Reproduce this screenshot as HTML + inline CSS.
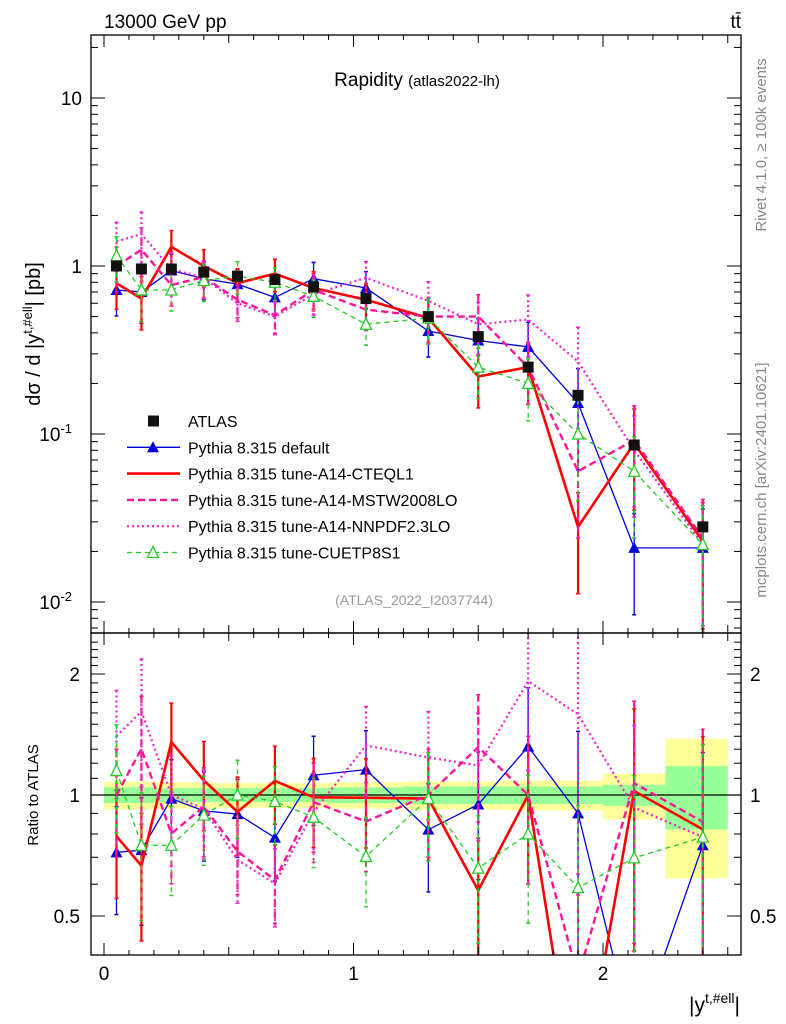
<!DOCTYPE html>
<html><head><meta charset="utf-8"><style>
html,body{margin:0;padding:0;background:#fff;width:786px;height:1024px;overflow:hidden;}
svg{display:block;position:absolute;left:0;top:0;font-family:"Liberation Sans",sans-serif;}
</style></head><body>
<svg id="c" width="786" height="1024" viewBox="0 0 786 1024"></svg>
<script>
const xCenters=[0.05,0.15,0.27,0.4,0.535,0.685,0.84,1.05,1.3,1.5,1.7,1.9,2.125,2.4];
const binEdges=[0,0.1,0.2,0.35,0.45,0.6,0.75,0.9,1.2,1.4,1.6,1.8,2.0,2.25,2.5];
const atlasVals=[1.0,0.96,0.96,0.92,0.87,0.83,0.75,0.64,0.5,0.38,0.25,0.17,0.086,0.028];
const yellowBand=[0.08,0.08,0.075,0.075,0.07,0.07,0.07,0.075,0.08,0.08,0.085,0.085,0.13,0.38];
const greenBand=[0.045,0.045,0.04,0.04,0.04,0.04,0.04,0.045,0.05,0.05,0.05,0.05,0.06,0.18];
const defaultVals=[0.72,0.70,0.94,0.84,0.78,0.65,0.84,0.74,0.41,0.36,0.33,0.153,0.021,0.021];
const cteqVals=[0.79,0.64,1.3,1.0,0.79,0.9,0.74,0.63,0.49,0.22,0.25,0.028,0.088,0.023];
const mstwVals=[1.0,1.25,0.77,0.86,0.63,0.51,0.72,0.55,0.5,0.5,0.25,0.06,0.092,0.024];
const nnpdfVals=[1.4,1.55,0.96,0.85,0.6,0.5,0.68,0.85,0.62,0.45,0.48,0.27,0.08,0.022];
const cuetVals=[1.15,0.72,0.72,0.82,0.87,0.8,0.66,0.45,0.49,0.25,0.2,0.1,0.06,0.022];
const relErr=[0.3,0.35,0.25,0.25,0.22,0.22,0.25,0.25,0.3,0.35,0.4,0.6,0.6,0.7];
const xTicks=[0,1,2];
const mainTicks=[[10,"10"],[1,"1"],[0.1,"10<sup>-1</sup>"],[0.01,"10<sup>-2</sup>"]];
const ratioTicks=[[2,"2"],[1,"1"],[0.5,"0.5"]];

const NS="http://www.w3.org/2000/svg";
const svg=document.getElementById('c');
const L=91,R=741,MT=35,MB=633,RT=633,RB=955;
const X=v=>104+v*249.5;
const Ym=v=>266-Math.log10(v)*168;
const Yr=v=>795-Math.log10(v)*402;
function el(tag,attrs,parent){const e=document.createElementNS(NS,tag);for(const k in attrs)e.setAttribute(k,attrs[k]);(parent||svg).appendChild(e);return e;}
function txt(x,y,s,size,attrs,parent){const t=el('text',Object.assign({x:x,y:y,'font-size':size},attrs||{}),parent);t.innerHTML=s;return t;}

const defs=el('defs',{});
const c1=el('clipPath',{id:'cm'},defs);el('rect',{x:L,y:MT,width:R-L,height:MB-MT},c1);
const c2=el('clipPath',{id:'cr'},defs);el('rect',{x:L,y:RT,width:R-L,height:RB-RT},c2);

const bands=el('g',{'clip-path':'url(#cr)'});


for(let i=0;i<xCenters.length;i++){
  const x0=X(binEdges[i]),x1=X(binEdges[i+1]);
  el('rect',{x:x0,y:Yr(1+yellowBand[i]),width:x1-x0,height:Yr(1-yellowBand[i])-Yr(1+yellowBand[i]),fill:'#ffff99'},bands);
  el('rect',{x:x0,y:Yr(1+greenBand[i]),width:x1-x0,height:Yr(1-greenBand[i])-Yr(1+greenBand[i]),fill:'#99ff99'},bands);
}
el('line',{x1:L,x2:R,y1:Yr(1),y2:Yr(1),stroke:'#000','stroke-width':1.2});

const series=[
 {name:'default',vals:defaultVals,color:'#0000dd',w:1.3,dash:'',marker:'tri'},
 {name:'cteql1',vals:cteqVals,color:'#ff0000',w:2.6,dash:'',marker:''},
 {name:'mstw2008lo',vals:mstwVals,color:'#ff1493',w:2.4,dash:'7,4',marker:''},
 {name:'nnpdf23lo',vals:nnpdfVals,color:'#ee22cc',w:2.2,dash:'2,3',marker:''},
 {name:'cuetp8s1',vals:cuetVals,color:'#22cc22',w:1.3,dash:'5,4',marker:'otri'}
];
function drawSeries(s,panel){
  const Y=panel==='m'?Ym:Yr;
  const g=el('g',{'clip-path':panel==='m'?'url(#cm)':'url(#cr)'});
  
  
  const vals=s.vals.map((v,i)=>panel==='m'?v:v/atlasVals[i]);
  for(let i=0;i<vals.length;i++){
    const hi=vals[i]*(1+relErr[i]),lo=Math.max(vals[i]*(1-relErr[i]),1e-4);
    el('line',{x1:X(xCenters[i]),x2:X(xCenters[i]),y1:Y(hi),y2:Y(lo),stroke:s.color,'stroke-width':Math.min(s.w,2.2),'stroke-dasharray':s.dash},g);
    el('line',{x1:X(xCenters[i])-2,x2:X(xCenters[i])+2,y1:Y(hi),y2:Y(hi),stroke:s.color,'stroke-width':1.5},g);
    el('line',{x1:X(xCenters[i])-2,x2:X(xCenters[i])+2,y1:Y(lo),y2:Y(lo),stroke:s.color,'stroke-width':1.5},g);
  }
  const pts=vals.map((v,i)=>X(xCenters[i])+','+Y(v)).join(' ');
  el('polyline',{points:pts,fill:'none',stroke:s.color,'stroke-width':s.w,'stroke-dasharray':s.dash},g);
  vals.forEach((v,i)=>{
    const x=X(xCenters[i]),y=Y(v);
    if(s.marker==='tri'){const m=el('polygon',{points:`${x-6},${y+5} ${x+6},${y+5} ${x},${y-6}`,fill:s.color},g);}
    if(s.marker==='otri'){const m=el('polygon',{points:`${x-5.5},${y+5} ${x+5.5},${y+5} ${x},${y-6}`,fill:'#fff',stroke:s.color,'stroke-width':1.3},g);}
  });
}
series.forEach(s=>{drawSeries(s,'m');drawSeries(s,'r');});

const dg=el('g',{});


atlasVals.forEach((v,i)=>{
  const r=el('rect',{x:X(xCenters[i])-5.5,y:Ym(v)-5.5,width:11,height:11,fill:'#111'},dg);
  
  
});

el('rect',{x:L,y:MT,width:R-L,height:MB-MT,fill:'none',stroke:'#000','stroke-width':1.3});
el('rect',{x:L,y:RT,width:R-L,height:RB-RT,fill:'none',stroke:'#000','stroke-width':1.3});

for(let k=0;k<=25;k++){const v=k*0.1;const x=X(v);if(x<L||x>R)continue;const big=k%5===0;const len=(k%10===0)?12:(big?8:5);
  [MT,RT].forEach(t=>el('line',{x1:x,x2:x,y1:t,y2:t+len,stroke:'#000'}));
  [MB,RB].forEach(b=>el('line',{x1:x,x2:x,y1:b,y2:b-len,stroke:'#000'}));}
xTicks.forEach(v=>{const t=txt(X(v),980,String(v),19,{'text-anchor':'middle'});});

for(let d=-3;d<=1;d++){for(let m=1;m<10;m++){const v=m*Math.pow(10,d);const y=Ym(v);if(y<MT||y>MB)continue;const len=m===1?14:7;
  el('line',{x1:L,x2:L+len,y1:y,y2:y,stroke:'#000'});el('line',{x1:R,x2:R-len,y1:y,y2:y,stroke:'#000'});}}
mainTicks.forEach(([v,s])=>{const t=el('text',{x:82,y:Ym(v)+7,'font-size':19,'text-anchor':'end'});
  
  if(s.includes('sup')){const b=s.split('<sup>');t.innerHTML=b[0]+'<tspan dy="-8" font-size="13">'+b[1].replace('</sup>','')+'</tspan>';t.setAttribute('x',72);} else t.textContent=s;});
for(let v=0.4;v<=2.5;v+=0.1){const y=Yr(v);if(y<RT||y>RB)continue;const major=Math.abs(v-1)<1e-6||Math.abs(v-2)<1e-6||Math.abs(v-0.5)<1e-6;const len=major?14:7;
  el('line',{x1:L,x2:L+len,y1:y,y2:y,stroke:'#000'});el('line',{x1:R,x2:R-len,y1:y,y2:y,stroke:'#000'});}
ratioTicks.forEach(([v,s])=>{
  const a=txt(80,Yr(v)+7,s,19,{'text-anchor':'end'});
  const b=txt(750,Yr(v)+7,s,19,{});});

let t;
t=txt(104,28,'13000 GeV pp',19,{});
t=txt(741,28,'tt̄',19,{'text-anchor':'end'});
t=txt(417,86,'Rapidity <tspan font-size="15">(atlas2022-lh)</tspan>',19,{'text-anchor':'middle'});
t=txt(414,605,'(ATLAS_2022_I2037744)',14,{'text-anchor':'middle',fill:'#999'});
t=txt(0,0,'dσ / d |y<tspan dy="-8" font-size="13">t,#ell</tspan><tspan dy="8">| [pb]</tspan>',20,{transform:'translate(40,334) rotate(-90)','text-anchor':'middle'});
t=txt(0,0,'Ratio to ATLAS',15,{transform:'translate(38,795) rotate(-90)','text-anchor':'middle'});
t=txt(740,1012,'|y<tspan dy="-9" font-size="14">t,#ell</tspan><tspan dy="9">|</tspan>',21,{'text-anchor':'end'});
t=txt(0,0,'Rivet 4.1.0, ≥ 100k events',15,{transform:'translate(766,145) rotate(-90)','text-anchor':'middle',fill:'#888'});
t=txt(0,0,'mcplots.cern.ch [arXiv:2401.10621]',15,{transform:'translate(766,480) rotate(-90)','text-anchor':'middle',fill:'#888'});

const legendNames=['ATLAS','Pythia 8.315 default','Pythia 8.315 tune-A14-CTEQL1','Pythia 8.315 tune-A14-MSTW2008LO','Pythia 8.315 tune-A14-NNPDF2.3LO','Pythia 8.315 tune-CUETP8S1'];
const lg=el('g',{});


legendNames.forEach((n,i)=>{
  const y=421+i*26.3;
  const e=el('g',{},lg);
  
  
  if(i===0){el('rect',{x:148,y:y-5.5,width:11,height:11,fill:'#111'},e);}
  else{const s=series[i-1];el('line',{x1:127,x2:180,y1:y,y2:y,stroke:s.color,'stroke-width':s.w,'stroke-dasharray':s.dash},e);
    if(s.marker==='tri')el('polygon',{points:`${147},${y+5} ${159},${y+5} ${153},${y-6}`,fill:s.color},e);
    if(s.marker==='otri')el('polygon',{points:`${147.5},${y+5} ${158.5},${y+5} ${153},${y-6}`,fill:'#fff',stroke:s.color,'stroke-width':1.3},e);}
  txt(188,y+6,n,16,{},e);
});
</script>
</body></html>
